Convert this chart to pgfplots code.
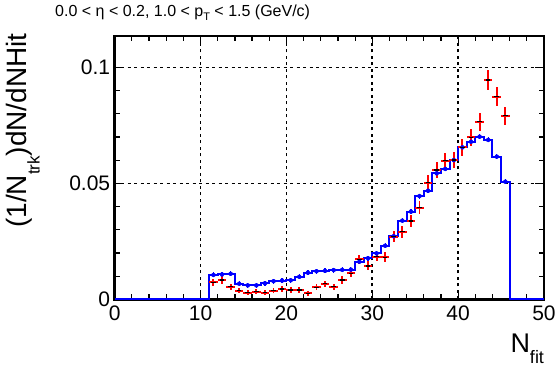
\documentclass[border=0pt]{standalone}
\usepackage{fontspec}
\setmainfont{Liberation Sans}
\usepackage{pgfplots}
\pgfplotsset{compat=1.18}
\usepackage{pgfplotstable}
\definecolor{rootblue}{RGB}{0,0,255}
\definecolor{rootred}{RGB}{255,0,0}
\pgfplotstableread{
x y
0 0
11 0.0105
12 0.0107
13 0.0110
14 0.0067
15 0.0060
16 0.0060
17 0.0069
18 0.0078
19 0.0081
20 0.0082
21 0.0097
22 0.0115
23 0.0121
24 0.0123
25 0.0126
26 0.0127
27 0.0128
28 0.0162
29 0.0177
30 0.0198
31 0.0231
32 0.0272
33 0.0339
34 0.0378
35 0.0445
36 0.0468
37 0.0543
38 0.0562
39 0.0600
40 0.0655
41 0.0679
42 0.0701
43 0.0687
44 0.0615
45 0.0507
46 0
50 0
}\histtab
\pgfplotstableread{
x y
11.5 0.0105
12.5 0.0107
13.5 0.0110
14.5 0.0067
15.5 0.0060
16.5 0.0060
17.5 0.0069
18.5 0.0078
19.5 0.0081
20.5 0.0082
21.5 0.0097
22.5 0.0115
23.5 0.0121
24.5 0.0123
25.5 0.0126
26.5 0.0127
27.5 0.0128
28.5 0.0162
29.5 0.0177
30.5 0.0198
31.5 0.0231
32.5 0.0272
33.5 0.0339
34.5 0.0378
35.5 0.0445
36.5 0.0468
37.5 0.0543
38.5 0.0562
39.5 0.0600
40.5 0.0655
41.5 0.0679
42.5 0.0701
43.5 0.0687
44.5 0.0615
45.5 0.0507
}\histcenters
\pgfplotstableread{
x y ex ey
11.5 0.0073 0.5 0.0015
12.5 0.0083 0.5 0.0016
13.5 0.0054 0.5 0.0013
14.5 0.0037 0.5 0.0012
15.5 0.0029 0.5 0.0011
16.5 0.0033 0.5 0.0011
17.5 0.0029 0.5 0.0011
18.5 0.0037 0.5 0.0012
19.5 0.0044 0.5 0.0012
20.5 0.0040 0.5 0.0012
21.5 0.0040 0.5 0.0012
22.5 0.0026 0.5 0.0010
23.5 0.0052 0.5 0.0013
24.5 0.0067 0.5 0.0014
25.5 0.0054 0.5 0.0013
26.5 0.0083 0.5 0.0016
27.5 0.0112 0.5 0.0017
28.5 0.0172 0.5 0.0020
29.5 0.0144 0.5 0.0019
30.5 0.0184 0.5 0.0021
31.5 0.0181 0.5 0.0021
32.5 0.0270 0.5 0.0024
33.5 0.0291 0.5 0.0025
34.5 0.0338 0.5 0.0027
35.5 0.0395 0.5 0.0029
36.5 0.0503 0.5 0.0032
37.5 0.0557 0.5 0.0033
38.5 0.0597 0.5 0.0034
39.5 0.0600 0.5 0.0034
40.5 0.0655 0.5 0.0036
41.5 0.0698 0.5 0.0037
42.5 0.0766 0.5 0.0039
43.5 0.0945 0.5 0.0042
44.5 0.0873 0.5 0.0040
45.5 0.0791 0.5 0.0038
}\datatab
\begin{document}
\begin{tikzpicture}
\path[use as bounding box] (-114.7pt,-67.7pt) rectangle (443.3pt,299.3pt);
\begin{axis}[
  at={(0,0)}, anchor=south west,
  scale only axis,
  width=429.3pt, height=263.3pt,
  xmin=0, xmax=50, ymin=0, ymax=0.1135,
  xtick={0,10,20,30,40,50},
  xticklabels={0,10,20,30,40,50},
  ytick={0,0.05,0.1},
  yticklabels={0,0.05,0.1},
  minor x tick num=4,
  minor y tick num=4,
  tick align=inside,
  major tick length=9pt,
  minor tick length=5pt,
  every tick/.style={black, line width=1.2pt},
  axis line style={black, line width=2.6pt},
  ticklabel style={font=\fontsize{21}{21}\selectfont},
  xticklabel style={yshift=-3.5pt},
  yticklabel style={xshift=-1pt},
  grid=major,
  major grid style={black, line width=1.6pt, dash pattern=on 3pt off 3.5pt},
  clip=false,
]
\addplot[const plot, color=rootblue, line width=2pt] table[x=x,y=y] {\histtab};
\addplot[only marks, mark=none, color=rootblue,
  error bars/.cd, y dir=both, y fixed=0.0011, error mark=none,
  error bar style={rootblue, line width=1.3pt}] table[x=x,y=y] {\histcenters};
\addplot[only marks, mark=-, mark size=2.3pt, mark options={black, line width=1.3pt},
  error bars/.cd, x dir=both, x explicit, y dir=both, y explicit, error mark=none,
  error bar style={rootred, line width=1.9pt}] table[x=x,y=y,x error=ex,y error=ey] {\datatab};
\end{axis}
\node[anchor=base west, inner sep=0pt, font=\fontsize{16}{16}\selectfont] at (-59.7pt,282.3pt)
  {0.0 < η < 0.2, 1.0 < p\raisebox{-0.25em}{\fontsize{11}{11}\selectfont T} < 1.5 (GeV/c)};
\node[anchor=base east, inner sep=0pt, font=\fontsize{27}{27}\selectfont] at (429.5pt,-53.5pt)
  {N\raisebox{-0.38em}{\fontsize{18}{18}\selectfont fit}};
\node[rotate=90, anchor=base east, inner sep=0pt, font=\fontsize{28}{28}\selectfont] at (-87.7pt,266.3pt)
  {(1/N\raisebox{-0.45em}{\fontsize{17}{17}\selectfont trk})dN/dNHit};
\end{tikzpicture}
\end{document}
